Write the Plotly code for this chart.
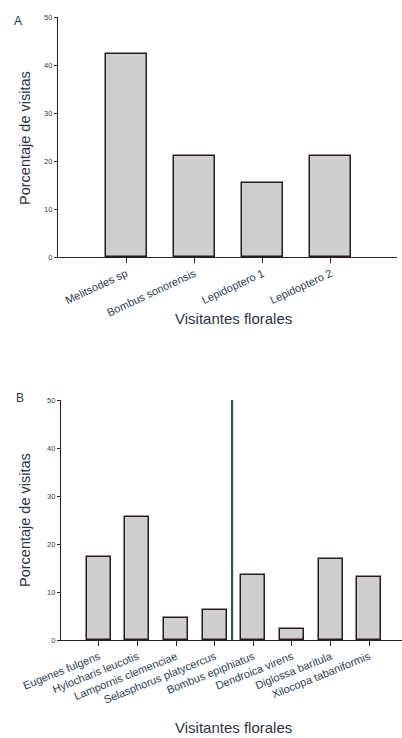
import plotly.graph_objects as go

# Panel A: floral visitors
cats_a = ["Melitsodes sp", "Bombus sonorensis", "Lepidoptero 1", "Lepidoptero 2"]
vals_a = [42.3, 21.0, 15.4, 21.0]

# Panel B: floral visitors
cats_b = ["Eugenes fulgens", "Hylocharis leucotis", "Lampornis clemenciae",
          "Selasphorus platycercus", "Bombus epiphiatus", "Dendroica virens",
          "Diglossa baritula", "Xilocopa tabaniformis"]
vals_b = [17.3, 25.6, 4.6, 6.25, 13.5, 2.3, 16.9, 13.1]

y_ticks = [0, 10, 20, 30, 40, 50]

W, H = 402, 738
FONT = "Liberation Sans, Arial, sans-serif"
TEXT = "#2b3440"
TICK = "#2c3e50"
AXIS = "#2a2222"


def px_x(p):
    return p / W


def px_y(p):
    return 1 - p / H


fig = go.Figure()

fig.add_trace(go.Bar(
    x=list(range(len(cats_a))), y=vals_a, width=0.6,
    marker=dict(color="#cfcfcf", line=dict(color="#2a1c1c", width=1.5)),
    xaxis="x", yaxis="y", showlegend=False,
))
fig.add_trace(go.Bar(
    x=list(range(len(cats_b))), y=vals_b, width=0.62,
    marker=dict(color="#cfcfcf", line=dict(color="#2a1c1c", width=1.5)),
    xaxis="x2", yaxis="y2", showlegend=False,
))

# Separator between hummingbirds and other visitors in panel B
fig.add_trace(go.Scatter(
    x=[3.45, 3.45], y=[-0.5, 53.0], mode="lines",
    line=dict(color="#2f585e", width=2.2),
    xaxis="x2", yaxis="y2", showlegend=False, hoverinfo="skip",
    cliponaxis=False,
))

xcommon = dict(
    showline=True, linecolor=AXIS, linewidth=1.3, ticks="outside",
    ticklen=5, tickcolor=AXIS, tickwidth=1,
    tickfont=dict(family=FONT, size=11, color=TICK),
    showgrid=False, zeroline=False, fixedrange=True, automargin=False,
)
ycommon = dict(
    showline=True, linecolor=AXIS, linewidth=1.3, ticks="outside",
    ticklen=3, tickcolor=AXIS, tickwidth=1, tickvals=y_ticks,
    tickfont=dict(family=FONT, size=7.5, color=TICK), range=[0, 50],
    showgrid=False, zeroline=False, fixedrange=True, automargin=False,
)

fig.update_layout(
    width=W, height=H,
    margin=dict(l=0, r=0, t=0, b=0, autoexpand=False),
    paper_bgcolor="white", plot_bgcolor="white",
    bargap=0,
    xaxis=dict(xcommon, domain=[px_x(58), px_x(397)], range=[-1.0, 3.97],
               tickangle=-25,
               tickvals=list(range(len(cats_a))), ticktext=cats_a, anchor="y"),
    yaxis=dict(ycommon, domain=[px_y(257), px_y(17)], anchor="x"),
    xaxis2=dict(xcommon, domain=[px_x(61), 1.0], range=[-0.98, 7.85],
                tickangle=-22,
                tickvals=list(range(len(cats_b))), ticktext=cats_b, anchor="y2"),
    yaxis2=dict(ycommon, domain=[px_y(640), px_y(400)], anchor="x2"),
)

ann = []
# Panel letters
ann.append(dict(text="A", x=px_x(18), y=px_y(21), xref="paper", yref="paper",
                xanchor="center", yanchor="middle", showarrow=False,
                font=dict(family=FONT, size=12, color=TEXT)))
ann.append(dict(text="B", x=px_x(20), y=px_y(398), xref="paper", yref="paper",
                xanchor="center", yanchor="middle", showarrow=False,
                font=dict(family=FONT, size=12, color=TEXT)))
# Y axis titles
for yc in (138, 520):
    ann.append(dict(text="Porcentaje de visitas", x=px_x(25), y=px_y(yc),
                    xref="paper", yref="paper", showarrow=False, textangle=-90,
                    xanchor="center", yanchor="middle",
                    font=dict(family=FONT, size=14.5, color=TEXT)))
# X axis titles
for yc in (318, 727):
    ann.append(dict(text="Visitantes florales", x=px_x(233), y=px_y(yc),
                    xref="paper", yref="paper", showarrow=False,
                    xanchor="center", yanchor="middle",
                    font=dict(family=FONT, size=15, color=TEXT)))
fig.update_layout(annotations=ann)

fig.write_html("out.html")
